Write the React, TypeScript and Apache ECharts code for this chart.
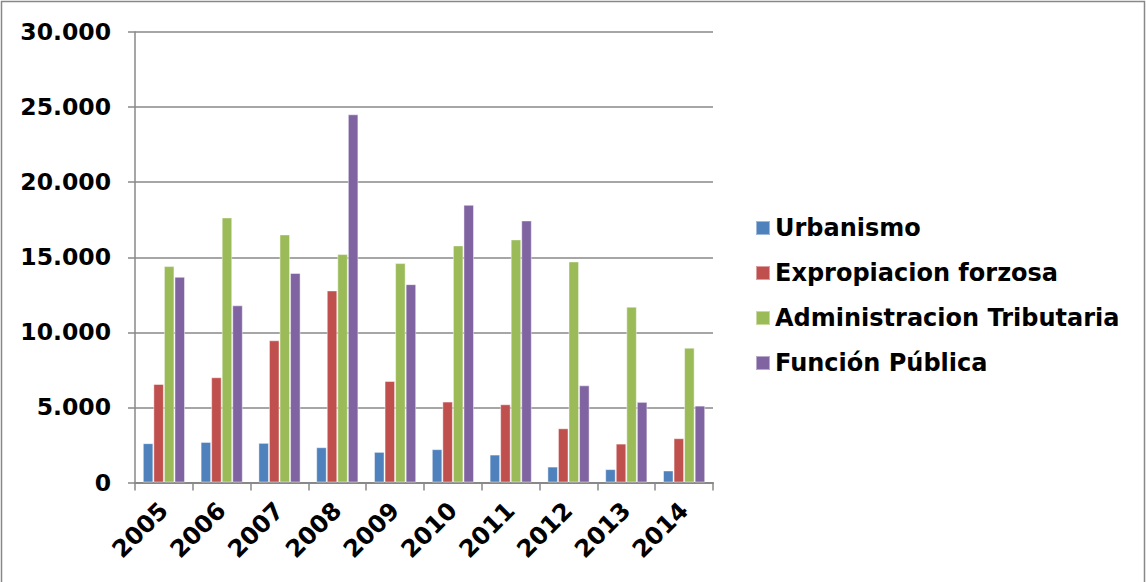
import React, { useEffect, useRef } from "react";
import * as echarts from "echarts";

const years = ["2005", "2006", "2007", "2008", "2009", "2010", "2011", "2012", "2013", "2014"];
const urbanismo = [2620, 2700, 2640, 2350, 2040, 2220, 1860, 1060, 890, 800];
const expropiacion = [6560, 7010, 9470, 12790, 6760, 5390, 5210, 3610, 2590, 2950];
const administracion = [14410, 17650, 16520, 15210, 14610, 15790, 16190, 14720, 11710, 8980];
const funcionPublica = [13700, 11800, 13950, 24520, 13210, 18490, 17450, 6470, 5370, 5120];
const seriesNames = ["Urbanismo", "Expropiacion forzosa", "Administracion Tributaria", "Función Pública"];
const seriesColors = ["#4F81BD", "#C0504D", "#9BBB59", "#8064A2"];

const FONT = "DejaVu Sans";
const GRAY = "#888888";

function fmt(v: number): string {
  const s = String(Math.round(v));
  return s.replace(/\B(?=(\d{3})+(?!\d))/g, ".");
}

export default function App() {
  const ref = useRef<HTMLDivElement>(null);
  useEffect(() => {
    document.body.style.margin = "0";
    if (!ref.current) return;
    const chart = echarts.init(ref.current, null, { renderer: "svg" });
    const data = [urbanismo, expropiacion, administracion, funcionPublica];
    chart.setOption({
      animation: false,
      backgroundColor: "#ffffff",
      graphic: [
        {
          type: "rect",
          shape: { x: 1.5, y: 1.5, width: 1143, height: 620 },
          style: { fill: "none", stroke: GRAY, lineWidth: 1.5 },
          silent: true,
        },
      ],
      grid: { left: 135, right: 433, top: 32, bottom: 99.5, containLabel: false },
      legend: {
        orient: "vertical",
        left: 750,
        top: 211,
        itemWidth: 14,
        itemHeight: 14,
        itemGap: 21,
        icon: "rect",
        data: seriesNames,
        textStyle: { fontFamily: FONT, fontWeight: "bold", fontSize: 24, color: "#000", lineHeight: 23 },
      },
      xAxis: {
        type: "category",
        data: years,
        axisLine: { show: true, lineStyle: { color: GRAY, width: 2 } },
        axisTick: { show: true, length: 8, alignWithLabel: false, lineStyle: { color: GRAY, width: 1.5 } },
        axisLabel: {
          rotate: 45,
          margin: 24,
          fontFamily: FONT,
          fontWeight: "bold",
          fontSize: 24,
          color: "#000",
          interval: 0,
        },
        splitLine: { show: false },
      },
      yAxis: {
        type: "value",
        min: 0,
        max: 30000,
        interval: 5000,
        axisLine: { show: true, lineStyle: { color: GRAY, width: 1.5 } },
        axisTick: { show: true, inside: false, length: 7, lineStyle: { color: GRAY, width: 1.5 } },
        axisLabel: {
          margin: 24,
          fontFamily: FONT,
          fontWeight: "bold",
          fontSize: 23.5,
          color: "#000",
          formatter: (v: number) => fmt(v),
        },
        splitLine: { show: true, lineStyle: { color: GRAY, width: 1.5 } },
      },
      series: seriesNames.map((name, i) => ({
        name,
        type: "bar",
        data: data[i],
        barGap: "0%",
        barCategoryGap: "27%",
        itemStyle: {
          color: seriesColors[i],
          borderColor: "rgba(255,255,255,0.45)",
          borderWidth: 1,
        },
      })),
    });
    return () => chart.dispose();
  }, []);
  return <div ref={ref} style={{ width: 1146, height: 582, position: "absolute", left: 0, top: 0 }} />;
}
